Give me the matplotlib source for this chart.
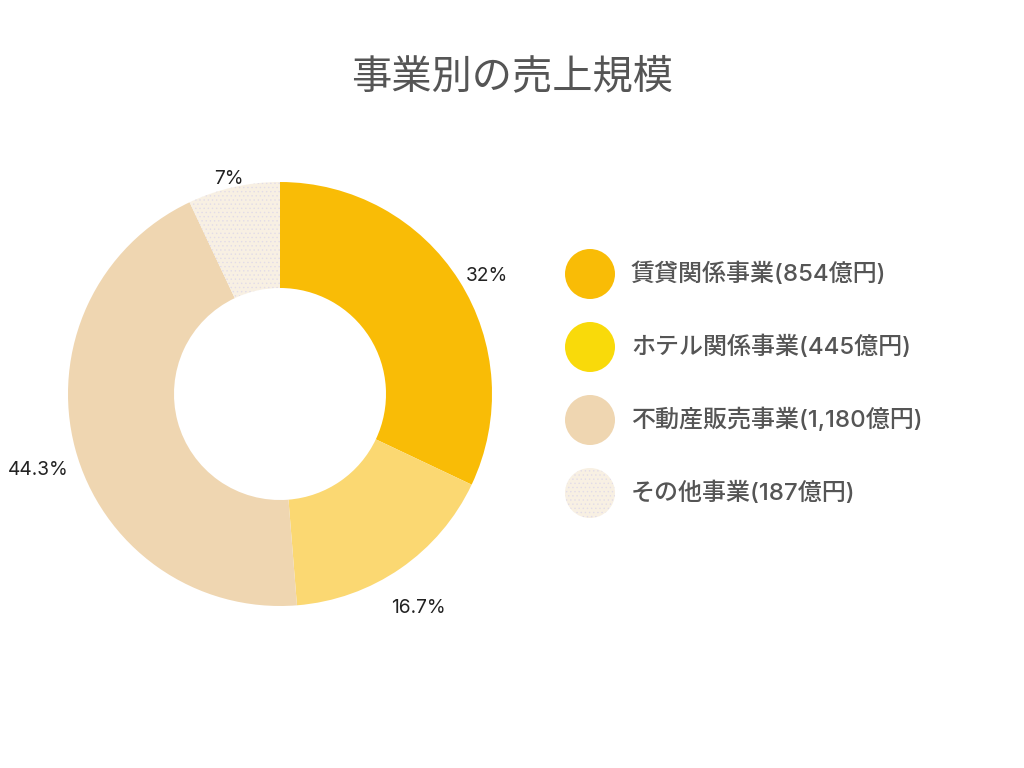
import matplotlib
matplotlib.use("Agg")
import matplotlib.pyplot as plt
from matplotlib.patches import Circle
import numpy as np

plt.rcParams['font.family'] = ['Noto Sans CJK JP', 'DejaVu Sans']

# ---- data ----
title = "事業別の売上規模"
categories = ["賃貸関係事業", "ホテル関係事業", "不動産販売事業", "その他事業"]
values = [854, 445, 1180, 187]
value_labels = ["854", "445", "1,180", "187"]
pct_labels = ["32%", "16.7%", "44.3%", "7%"]

# ---- styles ----
slice_colors = ["#F9BC06", "#FBD872", "#EFD6B1", "#F8F0E3"]
legend_colors = ["#F9BC06", "#F9DA0A", "#EFD6B1", "#F8F0E3"]
hatches = [None, None, None, "...."]
label_r = [1.14, 1.20, 1.18, 1.04]
label_dx = [3, -6, 0, -3]      # pixel nudges
label_dy = [-9, -3, -10, 2]

W, H = 1024, 768
fig = plt.figure(figsize=(W / 100, H / 100), dpi=100)
ax = fig.add_axes([0, 0, 1, 1])

plt.rcParams['hatch.linewidth'] = 0.5

cx, cy, R = 280, H - 394, 212
wedges, _ = ax.pie(values, colors=slice_colors, startangle=90, counterclock=False,
                   center=(cx, cy), radius=R, frame=True,
                   wedgeprops=dict(width=R * 0.5, linewidth=0))
ax.set_xlim(0, W)
ax.set_ylim(0, H)
ax.set_aspect('equal')
ax.axis('off')
for w, h in zip(wedges, hatches):
    if h:
        w.set_hatch(h)
        w.set_edgecolor('#E2DCE8')
        w.set_linewidth(0)

total = sum(values)
cum = 0
for v, lab, f, dx, dy in zip(values, pct_labels, label_r, label_dx, label_dy):
    mid = (cum + v / 2) / total * 2 * np.pi
    cum += v
    x = cx + f * R * np.sin(mid) + dx
    y = cy + f * R * np.cos(mid) + dy
    ax.text(x, y, lab, ha='center', va='center_baseline', fontsize=13.8, color='#222222',
            family=['Inter', 'DejaVu Sans'])

# title
ax.text(W / 2, H - 77, title, ha='center', va='center', fontsize=29, color='#555555')

# legend
lx, ly0, step = 590, H - 274, 73
for i, (cat, vl) in enumerate(zip(categories, value_labels)):
    y = ly0 - i * step
    c = Circle((lx, y), 25, facecolor=legend_colors[i], linewidth=0)
    if hatches[i]:
        c.set_hatch(hatches[i])
        c.set_edgecolor('#E2DCE8')
    ax.add_patch(c)
    ax.text(lx + 41, y, f"{cat}({vl}億円)", ha='left', va='center', fontsize=17.3,
            color='#555555', fontweight='medium',
            family=['Inter', 'Noto Sans CJK JP', 'DejaVu Sans'])

fig.savefig("out.png", dpi=100)
